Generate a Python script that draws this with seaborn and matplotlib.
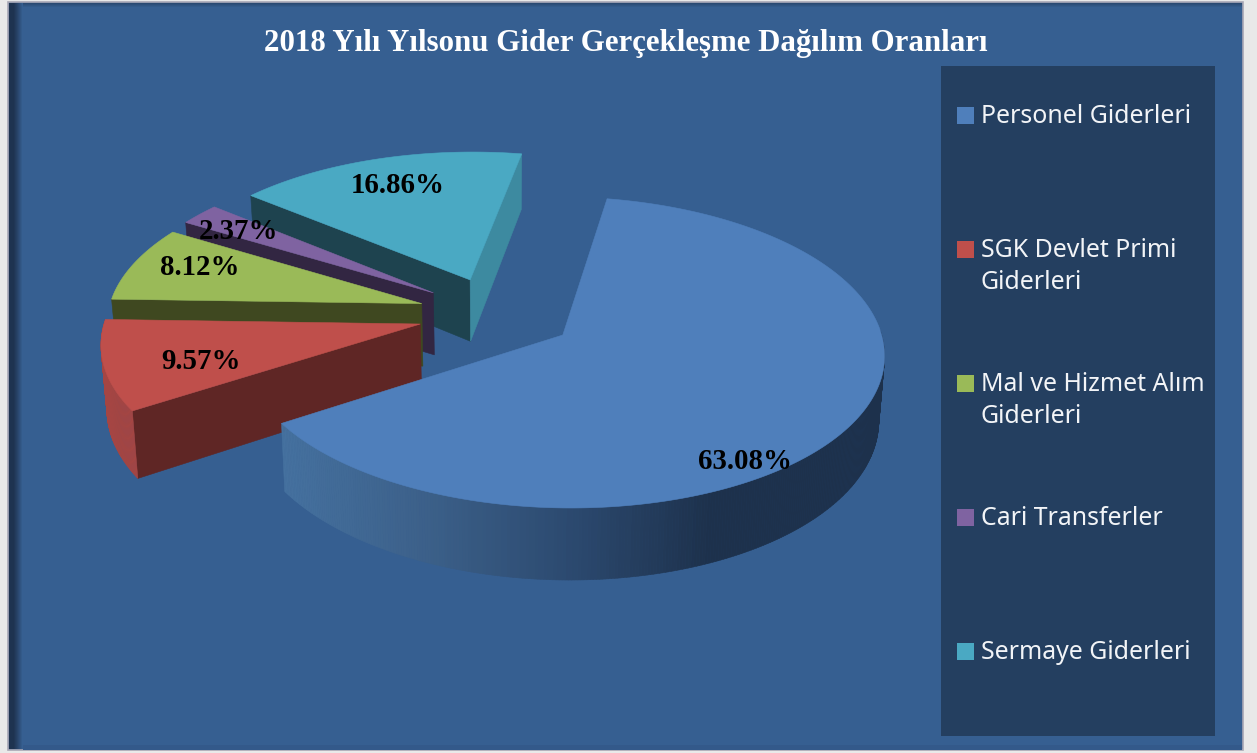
import matplotlib
matplotlib.use("Agg")
import matplotlib.pyplot as plt
import numpy as np
import seaborn as sns
from matplotlib.patches import Polygon, Rectangle

# DATA
categories = ["Personel Giderleri", "SGK Devlet Primi\nGiderleri", "Mal ve Hizmet Alım\nGiderleri",
              "Cari Transferler", "Sermaye Giderleri"]
values = [63.08, 9.57, 8.12, 2.37, 16.86]
value_labels = ["63.08%", "9.57%", "8.12%", "2.37%", "16.86%"]
title = "2018 Yılı Yılsonu Gider Gerçekleşme Dağılım Oranları"

# STYLE
top_colors = ["#4f7fbb", "#bf4f4b", "#9aba58", "#7f63a1", "#4aa9c3"]
cut_colors = ["#1d314c", "#5f2625", "#3f4820", "#322642", "#1e434f"]
side_colors = ["#3d8aa0" if i == 4 else None for i in range(5)]
rim_colors = [None, "#a54543", "#3f4820", "#322642", "#3a879b"]
label_xy = [(745, 461), (201, 361), (200, 267), (239, 231), (398, 185)]
legend_y = [115, 249, 383, 517, 651]

PANEL = "#365f91"
LEGEND_BG = "#243f60"

# 3D pie geometry, pixels
CX, CY = 496.5, 314
RX, RY = 314, 149
PERSP = 0.11
EXPLODE = 0.25
DEPTH = 63
START = 10.2

sns.set_theme(style="white")


def project(u, v, bottom=False):
    w = 1 / (1 + PERSP * v)
    x = RX * u * w
    y = RY * -v * w
    if bottom:
        return CX + x * 0.985, CY + y + DEPTH * w
    return CX + x, CY + y


def wedge_point(t, b, r=1.0):
    # t and b in degrees, clockwise from north
    t, b = np.radians(t), np.radians(b)
    return EXPLODE * np.sin(b) + r * np.sin(t), EXPLODE * np.cos(b) + r * np.cos(t)


fig = plt.figure(figsize=(12.57, 7.53), dpi=100, facecolor="#e9e9e9")
ax = fig.add_axes([0, 0, 1, 1])
ax.set_xlim(0, 1257)
ax.set_ylim(753, 0)
ax.axis("off")

# Panel and inner shadow
ax.add_patch(Rectangle((8, 2), 1235, 748, fc=PANEL, ec="#a9a7b5", lw=1.2, zorder=0))
shade_top = sns.blend_palette(["#2a4a72", PANEL], 5)
for i, c in enumerate(shade_top):
    ax.add_patch(Rectangle((9, 3 + i), 1233, 1.2, fc=c, ec="none", zorder=0.05))
shade = sns.blend_palette(["#1e3350", "#1e3350", "#2a476e", PANEL], 14)
for i, c in enumerate(shade):
    ax.add_patch(Rectangle((9 + i, 3), 1.2, 746, fc=c, ec="none", zorder=0.1))
ax.add_patch(Rectangle((23, 745), 1219, 5, fc="#33598a", ec="none", zorder=0.05))

# Wedges, back to front
cum = np.cumsum([0] + values) * 3.6 + START
blue_wall = sns.blend_palette(["#45719f", "#3c6089", "#2c4a70", "#1d314c", "#1d314c"], 120)
order = [4, 3, 2, 1, 0]
z = 1
for idx in order:
    a0, a1 = cum[idx], cum[idx + 1]
    b = (a0 + a1) / 2
    ts = np.linspace(a0, a1, max(int(a1 - a0) * 2, 4) + 1)
    rim = [wedge_point(t, b) for t in ts]
    apex = wedge_point(0, b, 0)
    inner = project(*wedge_point(b, b, 0.6))

    top_rim = [project(*p) for p in rim]
    low_rim = [project(*p, bottom=True) for p in rim]
    ap_top = project(*apex)
    ap_low = project(*apex, bottom=True)

    # radial cut faces
    for edge_i, face_color in [(0, cut_colors[idx]), (-1, side_colors[idx] or cut_colors[idx])]:
        p1 = top_rim[edge_i]
        line_y = ap_top[1] + (inner[0] - ap_top[0]) * (p1[1] - ap_top[1]) / (p1[0] - ap_top[0])
        if inner[1] < line_y:
            ax.add_patch(Polygon([ap_top, p1, low_rim[edge_i], ap_low], fc=face_color,
                                 ec=face_color, lw=0.4, zorder=z))
    z += 1

    # outer wall
    for j in range(len(ts) - 1):
        t = np.radians((ts[j] + ts[j + 1]) / 2)
        if np.cos(t) > 0.03:
            continue
        if idx == 0:
            frac = np.clip((top_rim[j][0] - 282) / (852 - 282), 0, 1)
            color = blue_wall[int(frac * (len(blue_wall) - 1))]
        else:
            color = rim_colors[idx]
        ax.add_patch(Polygon([top_rim[j], top_rim[j + 1], low_rim[j + 1], low_rim[j]], fc=color,
                             ec=color, lw=0.4, zorder=z))
    z += 1

    ax.add_patch(Polygon([ap_top] + top_rim, fc=top_colors[idx], ec=top_colors[idx], lw=0.4, zorder=z))
    z += 1

# Value labels
for (x, y), txt in zip(label_xy, value_labels):
    ax.text(x, y, txt, ha="center", va="center", color="black", fontsize=20.8, fontweight="bold",
            family="Liberation Serif", zorder=50)

ax.text(625.5, 43, title, ha="center", va="center", color="white", fontsize=22.2, fontweight="bold",
        family="Liberation Serif", zorder=50)

# Legend
ax.add_patch(Rectangle((941, 66), 274, 670, fc=LEGEND_BG, ec="none", zorder=40))
for name, color, y in zip(categories, top_colors, legend_y):
    ax.add_patch(Rectangle((957, y - 8), 17, 17, fc=color, ec="none", zorder=41))
    ax.text(981, y - 11, name, ha="left", va="top", color="#f2f4f7", fontsize=17.9,
            family="Noto Sans", linespacing=1.37, zorder=41)

fig.savefig("out.png", dpi=100, facecolor=fig.get_facecolor())
